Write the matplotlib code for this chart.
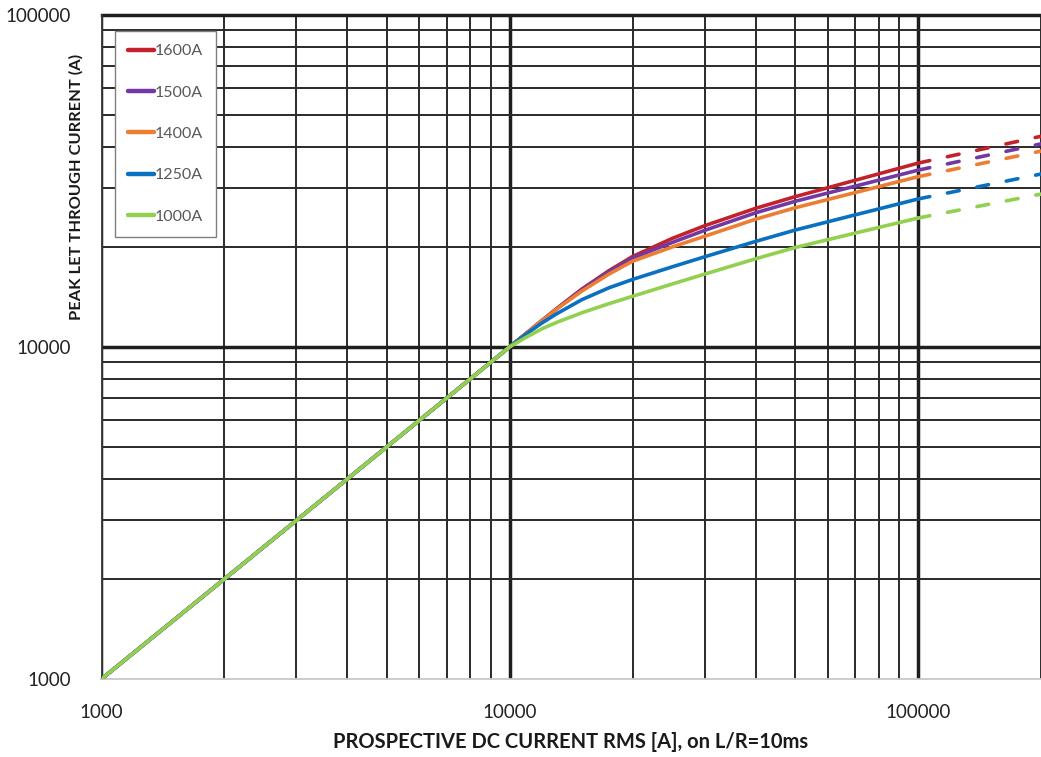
import matplotlib
matplotlib.use("Agg")
import matplotlib.pyplot as plt
from matplotlib.ticker import LogLocator, FixedLocator, NullFormatter, FuncFormatter

# ---- data ----
x_solid = [1000, 10000, 11000, 12000, 13000, 15000, 17500, 20000, 25000, 30000,
           40000, 50000, 60000, 70000, 80000, 100000]
x_dash = [100000, 200000]

series_labels = ["1600A", "1500A", "1400A", "1250A", "1000A"]
series_colors = ["#C3222C", "#7339A2", "#ED7D31", "#0A70C0", "#92D050"]

y_1600 = [1000, 10000, 11000, 12000, 13000, 14900, 16950, 18700, 21190, 23130,
          26100, 28300, 30080, 31680, 33130, 35700]
y_1500 = [1000, 10000, 11000, 12000, 12990, 14850, 16850, 18500, 20600, 22400,
          25300, 27400, 29000, 30420, 31710, 34000]
y_1400 = [1000, 10000, 11000, 11990, 12960, 14700, 16550, 18100, 19970, 21500,
          24200, 26200, 27730, 29090, 30320, 32500]
y_1250 = [1000, 10000, 10950, 11800, 12550, 13850, 15050, 15950, 17400, 18650,
          20750, 22450, 23760, 24930, 25980, 27850]
y_1000 = [1000, 10000, 10700, 11330, 11830, 12650, 13480, 14190, 15450, 16540,
          18400, 19890, 20990, 21970, 22850, 24400]

yd_1600 = [35700, 43000]
yd_1500 = [34000, 40800]
yd_1400 = [32500, 38800]
yd_1250 = [27850, 33100]
yd_1000 = [24400, 28800]

solid_series = [y_1600, y_1500, y_1400, y_1250, y_1000]
dash_series = [yd_1600, yd_1500, yd_1400, yd_1250, yd_1000]

x_limits = (1000, 200000)
y_limits = (1000, 100000)
major_ticks_x = [1000, 10000, 100000]
major_ticks_y = [1000, 10000, 100000]

xlabel = "PROSPECTIVE DC CURRENT RMS [A], on L/R=10ms"
ylabel = "PEAK LET THROUGH CURRENT (A)"

# ---- figure ----
W, H = 1041, 757
fig = plt.figure(figsize=(W / 100, H / 100), dpi=100)
plt.rcParams['font.family'] = ['Lato', 'DejaVu Sans']

ax_left, ax_right, ax_top, ax_bottom = 101.5, 1041, 14.5, 679
ax = fig.add_axes([ax_left / W, 1 - ax_bottom / H, (ax_right - ax_left) / W, (ax_bottom - ax_top) / H])
ax.set_xscale('log')
ax.set_yscale('log')
ax.set_xlim(*x_limits)
ax.set_ylim(*y_limits)

ax.xaxis.set_major_locator(FixedLocator(major_ticks_x))
ax.yaxis.set_major_locator(FixedLocator(major_ticks_y))
ax.xaxis.set_minor_locator(LogLocator(base=10, subs=range(2, 10)))
ax.yaxis.set_minor_locator(LogLocator(base=10, subs=range(2, 10)))
ax.xaxis.set_minor_formatter(NullFormatter())
ax.yaxis.set_minor_formatter(NullFormatter())
fmt = FuncFormatter(lambda v, p: f"{int(round(v))}")
ax.xaxis.set_major_formatter(fmt)
ax.yaxis.set_major_formatter(fmt)

ax.tick_params(which='both', length=0)
ax.tick_params(axis='x', which='major', pad=18, labelsize=13.5, labelcolor='#222222')
ax.tick_params(axis='y', which='major', pad=22, labelsize=13.5, labelcolor='#222222')

ax.grid(True, which='major', color='#1e1e1e', linewidth=2.5)
ax.grid(True, which='minor', color='#2a2a2a', linewidth=1.4)
ax.set_axisbelow(True)
for gl, v in zip(ax.get_ygridlines(), major_ticks_y):
    if v == y_limits[0]:
        gl.set_visible(False)
    if v == y_limits[1]:
        gl.set_clip_on(False)

for s in ['top', 'right']:
    ax.spines[s].set_visible(False)
ax.spines['left'].set_color('#333333')
ax.spines['left'].set_linewidth(1.3)
ax.spines['bottom'].set_color('#c8c8c8')
ax.spines['bottom'].set_linewidth(1.3)

handles = []
for lab, col, ys, yd in zip(series_labels, series_colors, solid_series, dash_series):
    h, = ax.plot(x_solid, ys, color=col, lw=2.6, solid_capstyle='round', solid_joinstyle='round', label=lab, zorder=3)
    ax.plot(x_dash, yd, color=col, lw=2.6, linestyle=(0, (3.3, 5.0)), dash_capstyle='round', zorder=3)
    handles.append(h)

# legend
lx0, ly0 = 114.5, 31
leg = ax.legend(handles=handles, loc='upper left',
                bbox_to_anchor=(lx0 / W, 1 - ly0 / H), bbox_transform=fig.transFigure,
                fontsize=11.5, frameon=True, fancybox=False, edgecolor='#7f7f7f',
                framealpha=1, handlelength=1.65, handletextpad=0.05, labelspacing=1.70,
                borderpad=0.82, borderaxespad=0, labelcolor='#595959')
leg.get_frame().set_linewidth(1.0)
for ln in leg.get_lines():
    ln.set_linewidth(3.2)

fig.text(571 / W, 1 - 742 / H, xlabel, ha='center', va='center', fontsize=14.5, fontweight='bold', color='#1a1a1a')
fig.text(76 / W, 1 - 187 / H, ylabel, ha='center', va='center', rotation=90, fontsize=11.8, fontweight='bold', color='#1a1a1a')

fig.savefig('out.png', dpi=100)
